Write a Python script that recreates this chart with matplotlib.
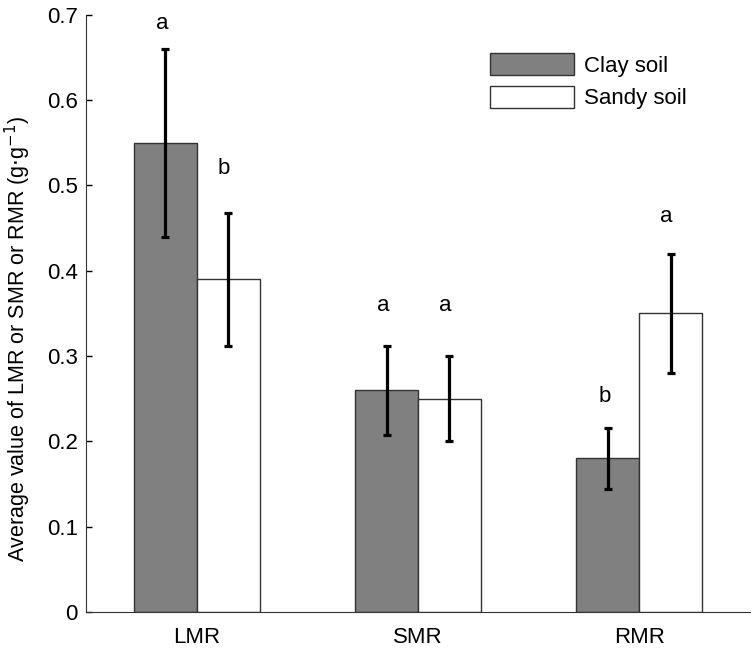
import numpy as np
from matplotlib import pyplot as plt

plt.rcParams['font.family'] = ['Liberation Sans', 'DejaVu Sans']

groups = ['LMR', 'SMR', 'RMR']
clay_mean = [0.55, 0.26, 0.18]
clay_err = [0.11, 0.052, 0.036]
sandy_mean = [0.39, 0.25, 0.35]
sandy_err = [0.078, 0.05, 0.07]
clay_letters = ['a', 'a', 'b']
sandy_letters = ['b', 'a', 'a']
# heights of the significance letters
clay_letter_y = [0.69, 0.359, 0.253]
sandy_letter_y = [0.52, 0.359, 0.463]

fig = plt.figure(figsize=(7.56, 6.48), dpi=100)
ax = fig.add_axes([86 / 756, 1 - 612 / 648, 664 / 756, (612 - 14.7) / 648])

x = np.arange(1, len(groups) + 1)
w = 0.284
ax.bar(x - w / 2, clay_mean, w, color='#808080', edgecolor='#333333', linewidth=1, label='Clay soil')
ax.bar(x + w / 2, sandy_mean, w, color='white', edgecolor='#333333', linewidth=1, label='Sandy soil')
ax.errorbar(x - w / 2, clay_mean, yerr=clay_err, fmt='none', ecolor='black', elinewidth=2.3, capsize=3.2, capthick=2.3)
ax.errorbar(x + w / 2, sandy_mean, yerr=sandy_err, fmt='none', ecolor='black', elinewidth=2.3, capsize=3.2, capthick=2.3)

for i in range(len(groups)):
    ax.text(x[i] - w / 2 - 0.015, clay_letter_y[i], clay_letters[i], ha='center', va='center', fontsize=16)
    ax.text(x[i] + w / 2 - 0.02, sandy_letter_y[i], sandy_letters[i], ha='center', va='center', fontsize=16)

ax.set_xlim(0.5, 3.5)
ax.set_ylim(0, 0.7)
ax.set_xticks(x)
ax.set_xticklabels(groups)
ax.set_yticks(np.arange(0, 0.71, 0.1))
ax.set_yticklabels(['0', '0.1', '0.2', '0.3', '0.4', '0.5', '0.6', '0.7'])
ax.tick_params(axis='y', direction='in', length=4, width=1, pad=6, labelsize=16)
ax.tick_params(axis='x', length=0, pad=11, labelsize=16)
ax.spines['top'].set_visible(False)
ax.spines['right'].set_visible(False)
ax.spines['left'].set_color('#333333')
ax.spines['bottom'].set_color('#333333')
ax.set_ylabel('Average value of LMR or SMR or RMR (g$\\cdot$g$^{-1}$)', fontsize=15.5)
ax.yaxis.set_label_coords(-0.0805, 0.457)

ax.legend(loc='upper left', bbox_to_anchor=(490 / 756, 1 - 53 / 648), bbox_transform=fig.transFigure,
          frameon=False, fontsize=16, borderpad=0, borderaxespad=0, handlelength=3.78, handleheight=1.17,
          handletextpad=0.45, labelspacing=0.4)

fig.savefig('out.png', dpi=100)
